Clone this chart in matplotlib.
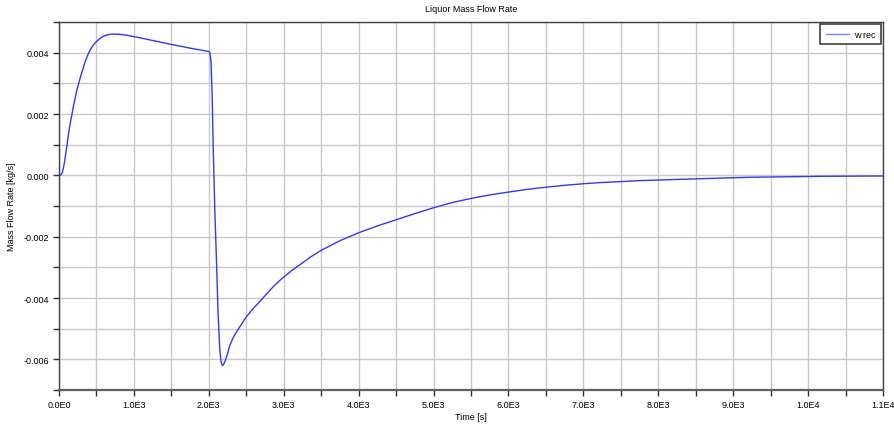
import matplotlib
matplotlib.use("Agg")
import matplotlib.pyplot as plt
from matplotlib.ticker import MultipleLocator

# Data
time_s = [0, 13, 30, 44, 60, 80, 100, 124, 145, 169, 190, 213, 245, 280, 315, 347,
          380, 413, 455, 502, 555, 613, 680, 747, 810, 880, 1013,
          1250, 1500, 1750, 2000, 2013, 2030, 2045, 2060, 2080, 2100, 2124, 2147,
          2165, 2180, 2195, 2215, 2240, 2280, 2324, 2370, 2413, 2502, 2590, 2680, 2770,
          2857, 2947, 3035, 3120, 3213, 3360, 3511, 3760, 4013, 4260, 4511, 4770,
          5023, 5270, 5524, 5770, 6013, 6270, 6524, 6770, 7013, 7270, 7524, 7770,
          8023, 8680, 9253, 10187, 11000]
w_rec = [0.0, 0.0, 0.00003, 0.00009, 0.00025, 0.00052, 0.00088, 0.00129, 0.00163,
         0.00194, 0.00222, 0.00249, 0.00284, 0.00315, 0.00344, 0.00369,
         0.0039, 0.00408, 0.00424, 0.00437, 0.00448, 0.00456, 0.0046, 0.00461,
         0.0046, 0.00458, 0.00452,
         0.0044, 0.00427, 0.00415, 0.00404, 0.00401, 0.0037, 0.0026, 0.0008,
         -0.0011, -0.0026, -0.0045, -0.0057, -0.0061, -0.0062, -0.00618, -0.00607,
         -0.0059, -0.00555, -0.0053, -0.0051, -0.00494, -0.00461, -0.00435, -0.00412,
         -0.00387, -0.00364, -0.00343, -0.00325, -0.00308, -0.00292, -0.00266,
         -0.00243, -0.00212, -0.00186, -0.00164, -0.00144, -0.00123,
         -0.00104, -0.000875, -0.00074, -0.00063, -0.00054, -0.00045, -0.00038,
         -0.00032, -0.00027, -0.00023, -0.0002, -0.00017,
         -0.00015, -0.0001, -0.00006, -0.00003, -0.00002]

x_ticks = [0, 1000, 2000, 3000, 4000, 5000, 6000, 7000, 8000, 9000, 10000, 11000]
x_tick_labels = ["0.0E0", "1.0E3", "2.0E3", "3.0E3", "4.0E3", "5.0E3", "6.0E3",
                 "7.0E3", "8.0E3", "9.0E3", "1.0E4", "1.1E4"]
y_ticks = [-0.006, -0.004, -0.002, 0.0, 0.002, 0.004]
y_tick_labels = ["-0.006", "-0.004", "-0.002", "0.000", "0.002", "0.004"]

title = "Liquor Mass Flow Rate"
x_label = "Time [s]"
y_label = "Mass Flow Rate [kg/s]"
series_label = "w rec"

plt.rcParams['font.family'] = ['Liberation Sans', 'DejaVu Sans']

fig = plt.figure(figsize=(8.95, 4.27), dpi=100)
ax = fig.add_axes([0.0659, 0.0843, 0.9207, 0.8617])

ax.plot(time_s, w_rec, color='#3535ff', lw=1.0, label=series_label)

ax.set_xlim(0, 11000)
ax.set_ylim(-0.007, 0.005)
ax.set_xticks(x_ticks)
ax.set_xticklabels(x_tick_labels)
ax.set_yticks(y_ticks)
ax.set_yticklabels(y_tick_labels)
ax.xaxis.set_minor_locator(MultipleLocator(500))
ax.yaxis.set_minor_locator(MultipleLocator(0.001))

ax.grid(True, which='both', color='#c8c8c8', lw=1.0)
ax.set_axisbelow(True)

ax.tick_params(which='both', direction='out', length=4, width=1,
               color='#303030', labelsize=6.5, pad=3)

for side in ['left', 'top', 'right']:
    ax.spines[side].set_color('#404040')
    ax.spines[side].set_linewidth(1.0)
ax.spines['bottom'].set_color('#606060')
ax.spines['bottom'].set_linewidth(1.6)

ax.set_title(title, fontsize=6.5, pad=8)
ax.set_xlabel(x_label, fontsize=6.5, labelpad=2)
ax.set_ylabel(y_label, fontsize=6.5)
ax.yaxis.set_label_coords(-0.052, 0.5)

leg = ax.legend(loc='upper right', fontsize=6.5, fancybox=False, framealpha=1,
                edgecolor='#404040', handlelength=2.6, handletextpad=0.5,
                borderpad=0.6, borderaxespad=0.25)
leg.get_frame().set_linewidth(1.2)
leg.get_lines()[0].set_color('#8080ff')

fig.savefig('out.png', dpi=100)
